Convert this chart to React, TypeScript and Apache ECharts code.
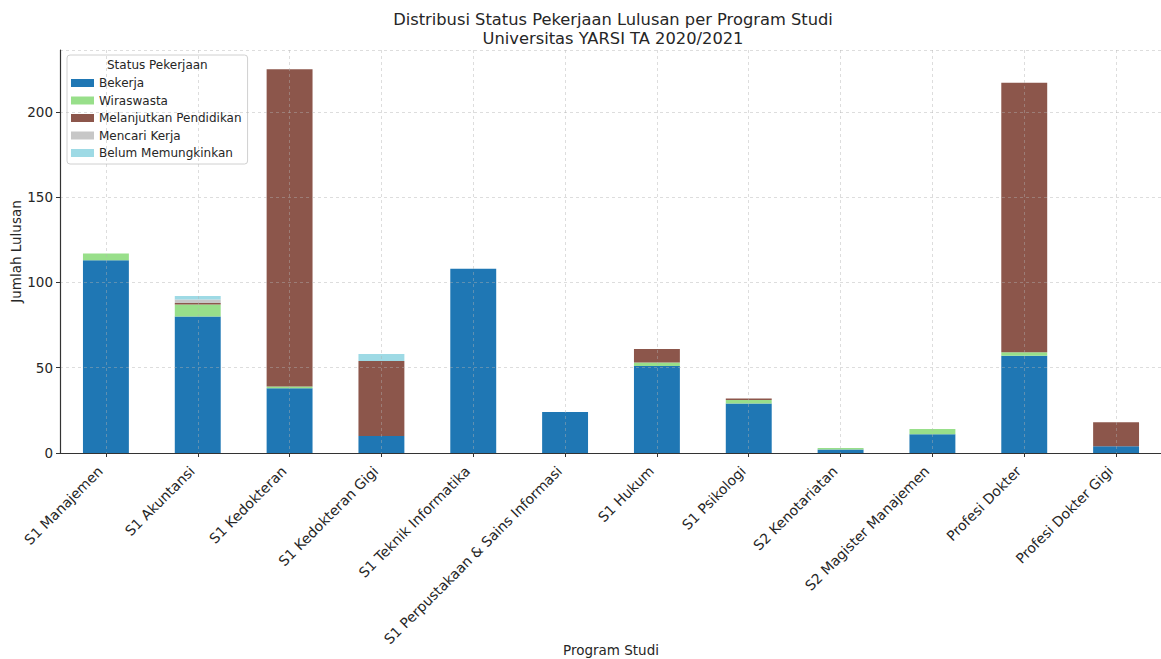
import React, { useEffect, useRef } from "react";
import * as echarts from "echarts";

const categories = [
  "S1 Manajemen",
  "S1 Akuntansi",
  "S1 Kedokteran",
  "S1 Kedokteran Gigi",
  "S1 Teknik Informatika",
  "S1 Perpustakaan & Sains Informasi",
  "S1 Hukum",
  "S1 Psikologi",
  "S2 Kenotariatan",
  "S2 Magister Manajemen",
  "Profesi Dokter",
  "Profesi Dokter Gigi",
];
const bekerja = [113, 80, 38, 10, 108, 24, 51, 29, 2, 11, 57, 4];
const wiraswasta = [4, 7, 1, 0, 0, 0, 2, 2, 1, 3, 2, 0];
const melanjutkan = [0, 1, 186, 44, 0, 0, 8, 1, 0, 0, 158, 14];
const mencariKerja = [0, 2, 0, 0, 0, 0, 0, 0, 0, 0, 0, 0];
const belumMemungkinkan = [0, 2, 0, 4, 0, 0, 0, 0, 0, 0, 0, 0];

const seriesNames = ["Bekerja", "Wiraswasta", "Melanjutkan Pendidikan", "Mencari Kerja", "Belum Memungkinkan"];
const seriesData = [bekerja, wiraswasta, melanjutkan, mencariKerja, belumMemungkinkan];
const colors = ["#1f77b4", "#98df8a", "#8c564b", "#c7c7c7", "#9edae5"];

const yMax = 236.25;
const FONT = "DejaVu Sans";

export default function App() {
  const ref = useRef<HTMLDivElement>(null);
  useEffect(() => {
    if (!ref.current) return;
    const chart = echarts.init(ref.current, undefined, { renderer: "svg" });
    const gridLine = { show: true, lineStyle: { color: "rgba(176,176,176,0.55)", type: [3, 3], width: 0.8 } };
    chart.setOption({
      animation: false,
      backgroundColor: "#fff",
      color: colors,
      textStyle: { fontFamily: FONT },
      title: {
        text: "Distribusi Status Pekerjaan Lulusan per Program Studi\nUniversitas YARSI TA 2020/2021",
        left: 608,
        textAlign: "center",
        top: 5,
        textStyle: { fontFamily: FONT, fontSize: 16.3, fontWeight: "normal", color: "#262626", lineHeight: 19 },
      },
      legend: {
        orient: "vertical",
        left: 67,
        top: 55,
        padding: [21, 6, 4, 4],
        itemWidth: 23,
        itemHeight: 8,
        itemGap: 3.5,
        backgroundColor: "rgba(255,255,255,0.85)",
        borderColor: "#d0d0d0",
        borderWidth: 1,
        borderRadius: 3,
        textStyle: { fontFamily: FONT, fontSize: 12, color: "#262626", lineHeight: 14 },
        data: seriesNames.map((n) => ({ name: n, icon: "rect" })),
      },
      graphic: [
        {
          type: "text",
          left: 107,
          top: 59,
          z: 100,
          style: { text: "Status Pekerjaan", fontFamily: FONT, fontSize: 12, fill: "#262626" },
        },
      ],
      grid: { left: 60, right: -1, top: 50, bottom: 206, containLabel: false, outerBoundsMode: "none" },
      xAxis: {
        type: "category",
        data: categories,
        z: 10,
        name: "Program Studi",
        nameLocation: "middle",
        nameGap: 190,
        nameMoveOverlap: false,
        nameTextStyle: { fontFamily: FONT, fontSize: 13.5, color: "#262626" },
        axisLine: { show: true, lineStyle: { color: "#333", width: 1.2 } },
        axisTick: { show: true, alignWithLabel: true, length: 4, lineStyle: { color: "#333" } },
        axisLabel: {
          rotate: 45,
          fontFamily: FONT,
          fontSize: 14,
          color: "#262626",
          margin: 10,
          padding: [0, 8, 0, 0],
          interval: 0,
        },
        splitLine: { ...gridLine, alignWithLabel: true },
      },
      yAxis: {
        type: "value",
        min: 0,
        max: yMax,
        interval: 50,
        z: 10,
        name: "Jumlah Lulusan",
        nameLocation: "middle",
        nameGap: 37,
        nameMoveOverlap: false,
        nameTextStyle: { fontFamily: FONT, fontSize: 13.5, color: "#262626" },
        axisLine: { show: true, lineStyle: { color: "#333", width: 1.2 } },
        axisTick: { show: true, length: 4, lineStyle: { color: "#333" } },
        axisLabel: { fontFamily: FONT, fontSize: 13.5, color: "#262626", margin: 7, showMaxLabel: false },
        splitLine: gridLine,
      },
      series: seriesNames.map((name, i) => ({
        name,
        type: "bar",
        stack: "total",
        barWidth: "50%",
        data: seriesData[i],
        itemStyle: { color: colors[i] },
      })),
    });
    return () => chart.dispose();
  }, []);
  return <div ref={ref} style={{ position: "fixed", left: 0, top: 0, width: 1161, height: 659 }} />;
}
